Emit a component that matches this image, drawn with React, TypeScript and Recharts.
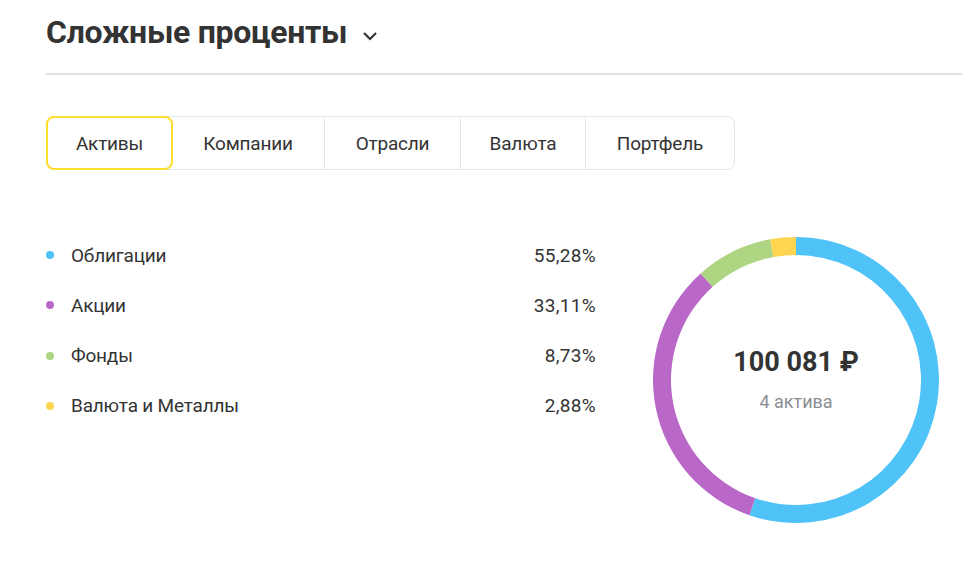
import { Cell, Label, Pie, PieChart } from "recharts";

const categories = ["Облигации", "Акции", "Фонды", "Валюта и Металлы"];
const shares = [55.28, 33.11, 8.73, 2.88];
const colors = ["#4fc3f7", "#ba68c8", "#aed581", "#ffd54f"];
const tabs = ["Активы", "Компании", "Отрасли", "Валюта", "Портфель"];
const tabWidths = [126, 152, 136, 125, 149];
const totalLabel = "100 081 ₽";
const countLabel = "4 актива";

const font = "Roboto, 'Liberation Sans', Arial, sans-serif";

const pieData = categories.map((name, i) => ({ name, value: shares[i], fill: colors[i] }));

function formatShare(v: number) {
  return `${v.toFixed(2).replace(".", ",")}%`;
}

function CenterText({ viewBox }: any) {
  const cx = viewBox?.cx ?? 150;
  const cy = viewBox?.cy ?? 150;
  return (
    <g>
      <text x={cx} y={cy - 18} textAnchor="middle" dominantBaseline="central" fill="#333" fontSize={27} fontWeight={700} fontFamily={font}>
        {totalLabel}
      </text>
      <text x={cx} y={cy + 21} textAnchor="middle" dominantBaseline="central" fill="#8a8d93" fontSize={18} fontFamily={font}>
        {countLabel}
      </text>
    </g>
  );
}

export default function App() {
  return (
    <div style={{ position: "absolute", left: 0, top: 0, width: 962, height: 561, background: "#fff", fontFamily: font, color: "#333", overflow: "hidden" }}>
      <div style={{ position: "absolute", left: 46, top: 12, fontSize: 32, fontWeight: 700, letterSpacing: -0.3, lineHeight: "40px", color: "#333" }}>
        Сложные проценты
      </div>
      <svg style={{ position: "absolute", left: 362, top: 30 }} width={16} height={12}>
        <path d="M2 3 L8 9 L14 3" fill="none" stroke="#333" strokeWidth={2.2} />
      </svg>
      <div style={{ position: "absolute", left: 46, top: 73, width: 916, height: 2, background: "#e2e2e2" }} />

      <div style={{ position: "absolute", left: 46, top: 116, height: 54, display: "flex", border: "1px solid #e3e6ea", borderRadius: 8, boxSizing: "border-box" }}>
        {tabs.map((t, i) => (
          <div
            key={t}
            style={{
              width: tabWidths[i],
              height: 52,
              boxSizing: "border-box",
              display: "flex",
              alignItems: "center",
              justifyContent: "center",
              fontSize: 19,
              letterSpacing: -0.2,
              color: "#333",
              borderLeft: i > 1 ? "1px solid #e3e6ea" : "none",
              ...(i === 0 ? { border: "2px solid #ffdd2d", borderRadius: 8, margin: -1, height: 54, width: tabWidths[i] + 1 } : {}),
            }}
          >
            {t}
          </div>
        ))}
      </div>

      {categories.map((c, i) => (
        <div key={c} style={{ position: "absolute", left: 46, top: 243 + i * 50.3, width: 550, height: 24, display: "flex", alignItems: "center", fontSize: 19 }}>
          <span style={{ width: 8, height: 8, borderRadius: 4, background: colors[i], marginRight: 17 }} />
          <span style={{ flex: 1, letterSpacing: -0.2 }}>{c}</span>
          <span style={{ letterSpacing: 0.3 }}>{formatShare(shares[i])}</span>
        </div>
      ))}

      <div style={{ position: "absolute", left: 646, top: 230 }}>
        <PieChart width={300} height={300} margin={{ top: 0, right: 0, bottom: 0, left: 0 }}>
          <Pie
            data={pieData}
            dataKey="value"
            nameKey="name"
            cx={150}
            cy={150}
            innerRadius={125}
            outerRadius={143}
            startAngle={90}
            endAngle={-270}
            stroke="none"
            isAnimationActive={false}
          >
            {pieData.map((d) => (
              <Cell key={d.name} fill={d.fill} />
            ))}
            <Label position="center" content={<CenterText />} />
          </Pie>
        </PieChart>
      </div>
    </div>
  );
}
